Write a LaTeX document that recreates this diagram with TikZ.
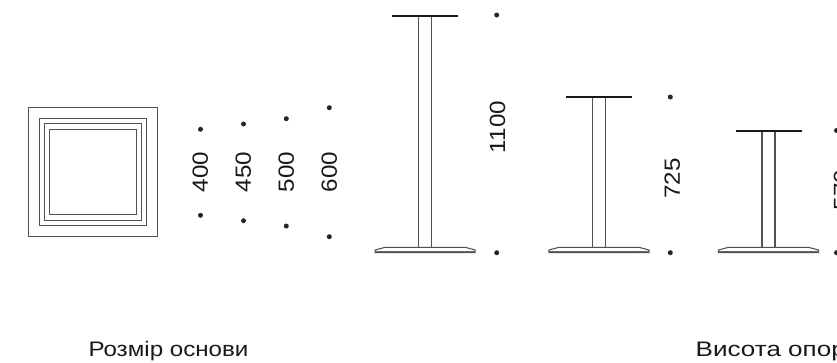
\documentclass[tikz,border=0pt]{standalone}
\usepackage{fontspec}
\setmainfont{Liberation Sans}
\newfontfamily\widefont[FakeStretch=1.15]{Liberation Sans}
\newfontfamily\widerfont[FakeStretch=1.24]{Liberation Sans}
\newfontfamily\digitfont[FakeStretch=1.1]{Liberation Sans}
\tikzset{
  x=1pt,y=-1pt,
  ln/.style={draw=black!68,line width=1.05pt},
  sq/.style={draw=black!68,line width=0.95pt},
  topbar/.style={draw=black!90,line width=1.9pt},
  dotn/.style={circle,fill=black!85,inner sep=0pt,minimum size=5pt},
  dimtxt/.style={rotate=90,inner sep=0pt,font=\digitfont\fontsize{22}{22}\selectfont,text=black!90},
  captxt/.style={anchor=base,inner sep=0pt,font=\widefont\fontsize{21}{21}\selectfont,text=black!90}
}
\newcommand{\tbl}[2]{% centre x, top y
  \draw[ln] (#1-6.5,#2) -- (#1-6.5,247.5);
  \draw[ln] (#1+6.5,#2) -- (#1+6.5,247.5);
  \draw[topbar] (#1-33,#2) -- (#1+33,#2);
  \draw[ln,fill=white] (#1-50,252.5) -- (#1-50,250) -- (#1-40,247.3) -- (#1+40,247.3) -- (#1+50,250) -- (#1+50,252.5) -- cycle;
  \draw[ln,line width=1.5pt,draw=black!60] (#1-50,251.3) -- (#1+50,251.3);
}
\begin{document}
\begin{tikzpicture}
\useasboundingbox (0,0) rectangle (837,362);
\clip (0,0) rectangle (837,362);
\fill[white] (0,0) rectangle (837,362);
\draw[sq] (28.3,107.3) rectangle (157.3,236.2);
\draw[sq] (39.5,118) rectangle (146.5,225);
\draw[sq] (44.5,123.5) rectangle (141.5,220);
\draw[sq] (49.5,129) rectangle (136,214.5);
\foreach \n/\x/\a/\b in {p400/200.5/129.3/215.3,p450/243.5/124/220.7,p500/286.3/118.7/226,p600/329.3/107.7/236.7}{
  \node[dotn] (\n a) at (\x,\a) {};
  \node[dotn] (\n b) at (\x,\b) {};
}
\node[dimtxt] (t400) at (200.3,172) {400};
\node[dimtxt] (t450) at (243.3,172) {450};
\node[dimtxt] (t500) at (286.3,172) {500};
\node[dimtxt] (t600) at (329.3,172) {600};
\tbl{425.2}{15.7}
\tbl{599}{97.2}
\tbl{768.5}{130.7}
\node[dotn] (h1a) at (496.7,15) {};
\node[dotn] (h1b) at (496.7,252.7) {};
\node[dotn] (h2a) at (670.3,97) {};
\node[dotn] (h2b) at (670.3,252.7) {};
\node[dotn] (h3a) at (836.5,130.5) {};
\node[dotn] (h3b) at (836.5,252.7) {};
\node[dimtxt] (t1100) at (497.5,127) {1100};
\node[dimtxt] (t725) at (672.2,178.5) {725};
\node[dimtxt] (t570) at (841.5,190) {570};
\node[captxt] (c1) at (168.5,356.7) {Розмір основи};
\node[captxt,font=\widerfont\fontsize{21}{21}\selectfont,anchor=base west] (c2) at (695.5,356.7) {Висота опори};
\end{tikzpicture}
\end{document}
